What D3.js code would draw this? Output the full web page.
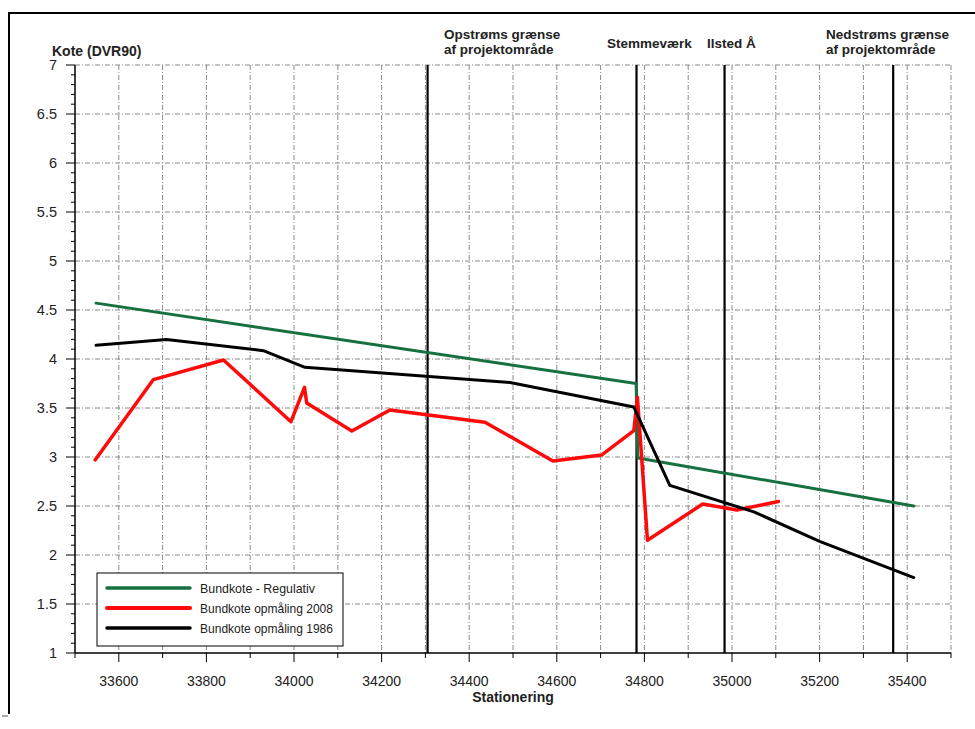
<!DOCTYPE html>
<html>
<head>
<meta charset="utf-8">
<script src="https://cdn.jsdelivr.net/npm/d3@7"></script>
<style>
  body { margin: 0; background: #fff; }
  svg { display: block; }
  text { font-family: "Liberation Sans", Arial, sans-serif; }
</style>
</head>
<body>
<svg id="chart" width="975" height="729"></svg>
<script>
// ---- Data ----
const regulativ = [[33548, 4.57], [34781, 3.75], [34785, 2.99], [35415, 2.50]];
const opmaaling2008 = [[33546, 2.97], [33679, 3.79], [33839, 3.99], [33993, 3.36], [34024, 3.71], [34029, 3.55],
  [34132, 3.265], [34219, 3.48], [34436, 3.355], [34591, 2.96], [34702, 3.02], [34776, 3.27], [34784, 3.61],
  [34807, 2.15], [34933, 2.52], [35011, 2.46], [35106, 2.545]];
const opmaaling1986 = [[33548, 4.14], [33709, 4.20], [33930, 4.085], [34025, 3.915], [34493, 3.76],
  [34776, 3.51], [34858, 2.71], [35050, 2.44], [35200, 2.14], [35415, 1.77]];
const markers = [
  { x: 34305, label: ["Opstrøms grænse", "af projektområde"] },
  { x: 34782, label: ["Stemmeværk"] },
  { x: 34983, label: ["Ilsted Å"] },
  { x: 35368, label: ["Nedstrøms grænse", "af projektområde"] }
];
const seriesNames = ["Bundkote - Regulativ", "Bundkote opmåling 2008", "Bundkote opmåling 1986"];
const xTicks = d3.range(33600, 35401, 200);
const yTicks = [1, 1.5, 2, 2.5, 3, 3.5, 4, 4.5, 5, 5.5, 6, 6.5, 7];

// ---- Layout ----
const svg = d3.select("#chart");
const x = d3.scaleLinear().domain([33500, 35500]).range([75, 951]);
const y = d3.scaleLinear().domain([1, 7]).range([653, 65]);

// frame
svg.append("line").attr("x1", 9).attr("x2", 975).attr("y1", 13).attr("y2", 13).attr("stroke", "#000").attr("stroke-width", 2);
svg.append("line").attr("x1", 9).attr("x2", 9).attr("y1", 12).attr("y2", 714).attr("stroke", "#000").attr("stroke-width", 2);
svg.append("line").attr("x1", 2).attr("x2", 8).attr("y1", 716).attr("y2", 716).attr("stroke", "#555").attr("stroke-width", 1);

const gridStyle = sel => sel.attr("stroke", "#8a8a8a").attr("stroke-width", 1).attr("stroke-dasharray", "5,2,1,2");

// vertical grid every 100
svg.append("g").selectAll("line").data(d3.range(33600, 35501, 100)).join("line")
  .attr("x1", d => x(d)).attr("x2", d => x(d)).attr("y1", y(7)).attr("y2", y(1))
  .call(gridStyle);
// horizontal grid
svg.append("g").selectAll("line").data(yTicks.filter(d => d > 1)).join("line")
  .attr("x1", x(33500)).attr("x2", x(35500)).attr("y1", d => y(d)).attr("y2", d => y(d))
  .call(gridStyle);

// marker lines
svg.append("g").selectAll("line").data(markers).join("line")
  .attr("x1", d => x(d.x)).attr("x2", d => x(d.x)).attr("y1", y(7)).attr("y2", y(1))
  .attr("stroke", "#000").attr("stroke-width", 2.2);

// marker labels
const labelPos = { 34305: [444, 39], 34782: [607, 48], 34983: [707, 48], 35368: [826, 39] };
markers.forEach(m => {
  const [lx, ly] = labelPos[m.x];
  m.label.forEach((t, i) => {
    svg.append("text").attr("x", lx).attr("y", ly + i * 15).text(t)
      .attr("font-size", 13.5).attr("font-weight", "bold").attr("fill", "#222");
  });
});

// axes
const xAxis = svg.append("g").attr("transform", `translate(0,${y(1)})`);
xAxis.append("line").attr("x1", x(33500)).attr("x2", x(35500)).attr("stroke", "#000").attr("stroke-width", 1.5);
xAxis.selectAll(".minor").data(d3.range(33500, 35501, 100)).join("line")
  .attr("x1", d => x(d)).attr("x2", d => x(d)).attr("y1", 0).attr("y2", d => xTicks.includes(d) ? 9 : 5)
  .attr("stroke", "#000").attr("stroke-width", 1);
xAxis.selectAll("text").data(xTicks).join("text")
  .attr("x", d => x(d)).attr("y", 33).attr("text-anchor", "middle")
  .attr("font-size", 14).attr("fill", "#222").text(d => d);

const yAxis = svg.append("g").attr("transform", `translate(${x(33500)},0)`);
yAxis.append("line").attr("y1", y(1)).attr("y2", y(7)).attr("stroke", "#000").attr("stroke-width", 1.5);
yAxis.selectAll(".t").data(d3.range(10, 71, 1).map(d => d / 10)).join("line")
  .attr("y1", d => y(d)).attr("y2", d => y(d)).attr("x1", d => (Math.round(d * 10) % 5 === 0) ? -9 : -4).attr("x2", 0)
  .attr("stroke", "#000").attr("stroke-width", 1);
yAxis.selectAll("text").data(yTicks).join("text")
  .attr("x", -18).attr("y", d => y(d) + 5).attr("text-anchor", "end")
  .attr("font-size", 14.5).attr("fill", "#222").text(d => d);

svg.append("text").attr("x", 52).attr("y", 56).text("Kote (DVR90)")
  .attr("font-size", 14).attr("font-weight", "bold").attr("fill", "#222");
svg.append("text").attr("x", 513).attr("y", 702).attr("text-anchor", "middle").text("Stationering")
  .attr("font-size", 14).attr("font-weight", "bold").attr("fill", "#222");

// series
const line = d3.line().x(d => x(d[0])).y(d => y(d[1]));
const series = [
  { data: regulativ, color: "#17703f", width: 3 },
  { data: opmaaling2008, color: "#ff0a0a", width: 3.5 },
  { data: opmaaling1986, color: "#000", width: 3 }
];
series.forEach(s => {
  svg.append("path").datum(s.data).attr("d", line).attr("fill", "none")
    .attr("stroke", s.color).attr("stroke-width", s.width).attr("stroke-linejoin", "round").attr("stroke-linecap", "round");
});

// legend
const lg = svg.append("g");
lg.append("rect").attr("x", 97).attr("y", 573).attr("width", 246).attr("height", 73)
  .attr("fill", "#fff").attr("stroke", "#000").attr("stroke-width", 1);
const legendTextLen = [115, 133, 133];
series.forEach((s, i) => {
  const ly = 588 + i * 20;
  lg.append("line").attr("x1", 107).attr("x2", 190).attr("y1", ly).attr("y2", ly)
    .attr("stroke", s.color).attr("stroke-width", s.width + 0.5).attr("stroke-linecap", "round");
  lg.append("text").attr("x", 200).attr("y", ly + 5).text(seriesNames[i])
    .attr("font-size", 13.5).attr("fill", "#222")
    .attr("textLength", legendTextLen[i]).attr("lengthAdjust", "spacingAndGlyphs");
});
</script>
</body>
</html>
